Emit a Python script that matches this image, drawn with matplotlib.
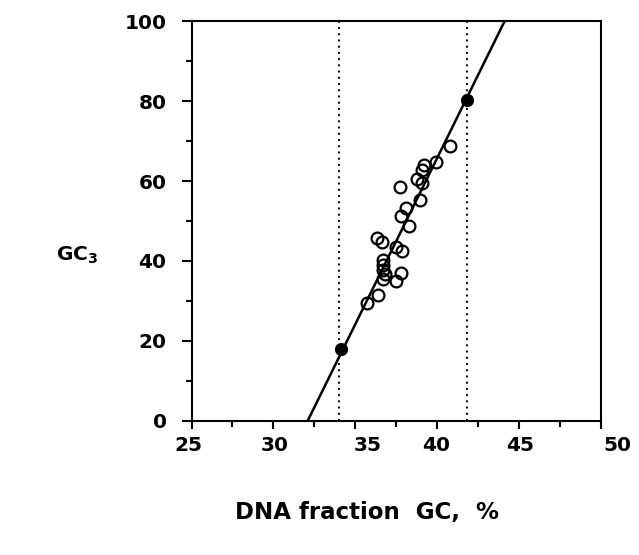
import matplotlib
matplotlib.use('Agg')
import matplotlib.pyplot as plt
import matplotlib.transforms as mtransforms
from matplotlib.ticker import MultipleLocator

plt.rcParams['font.family'] = ['DejaVu Sans']
plt.rcParams['font.weight'] = 'bold'
plt.rcParams['mathtext.default'] = 'bf'

# open circles: DNA GC (%) vs GC3
open_x = [40.8, 39.9, 39.2, 39.05, 38.75, 39.05, 37.75, 38.95, 38.1, 37.8, 38.3,
          36.3, 36.6, 37.5, 37.85, 36.7, 36.7, 36.7, 36.8, 37.8, 37.5, 36.7,
          36.4, 35.7]
open_y = [68.7, 64.9, 64.0, 62.8, 60.5, 59.6, 58.5, 55.3, 53.2, 51.3, 48.7,
          45.7, 44.8, 43.6, 42.5, 40.2, 39.0, 37.7, 36.7, 37.0, 35.0, 35.5,
          31.5, 29.4]
# filled points
fill_x = [34.1, 41.8]
fill_y = [18.0, 80.3]
# regression line end points
line_x = [32.1, 44.1]
line_y = [0, 100]
# dotted vertical markers
vlines_x = [34.0, 41.8]

xticks = [25, 30, 35, 40, 45, 50]
xtick_labels = ['25', '30', '35', '40', '45', '50']
# the original labels sit a little off their ticks (points)
xtick_shift = [-2, 1, 9, -1, 1, 12]

fig = plt.figure(figsize=(6.39, 5.55), dpi=100)
ax = fig.add_axes([0.2997, 0.2423, 0.641, 0.719])

for xv in vlines_x:
    ax.plot([xv, xv], [0, 100], color='black', linestyle=(0, (1, 2.2)), linewidth=1.4, zorder=1)
ax.plot(line_x, line_y, color='black', linewidth=1.8, zorder=2)
ax.plot(open_x, open_y, 'o', markersize=8.5, markerfacecolor='none',
        markeredgecolor='black', markeredgewidth=1.6, zorder=3)
ax.plot(fill_x, fill_y, 'o', markersize=8.5, color='black', zorder=4)

ax.set_xlim(25, 50)
ax.set_ylim(0, 100)
ax.set_xticks(xticks)
ax.set_xticklabels(xtick_labels)
ax.xaxis.set_minor_locator(MultipleLocator(2.5))
ax.yaxis.set_major_locator(MultipleLocator(20))
ax.yaxis.set_minor_locator(MultipleLocator(10))

for s in ax.spines.values():
    s.set_linewidth(1.5)
ax.tick_params(axis='x', which='major', direction='out', length=6, width=1.5,
               labelsize=14.5, pad=5)
ax.tick_params(axis='x', which='minor', direction='out', length=4, width=1.5)
ax.tick_params(axis='y', which='major', direction='out', length=7, width=1.5,
               labelsize=14.5, pad=11)
ax.tick_params(axis='y', which='minor', direction='out', length=4, width=1.5)
for lab in ax.get_xticklabels() + ax.get_yticklabels():
    lab.set_fontweight('bold')
for lab, dx in zip(ax.get_xticklabels(), xtick_shift):
    lab.set_transform(lab.get_transform() +
                      mtransforms.ScaledTranslation(dx / 72, 0, fig.dpi_scale_trans))

fig.text(0.12, 0.54, r'GC$_{3}$', fontsize=14.5, fontweight='bold',
         ha='center', va='center')
fig.text(0.575, 0.077, 'DNA fraction  GC,  %', fontsize=16.5, fontweight='bold',
         ha='center', va='center')

fig.savefig('out.png', dpi=100)
